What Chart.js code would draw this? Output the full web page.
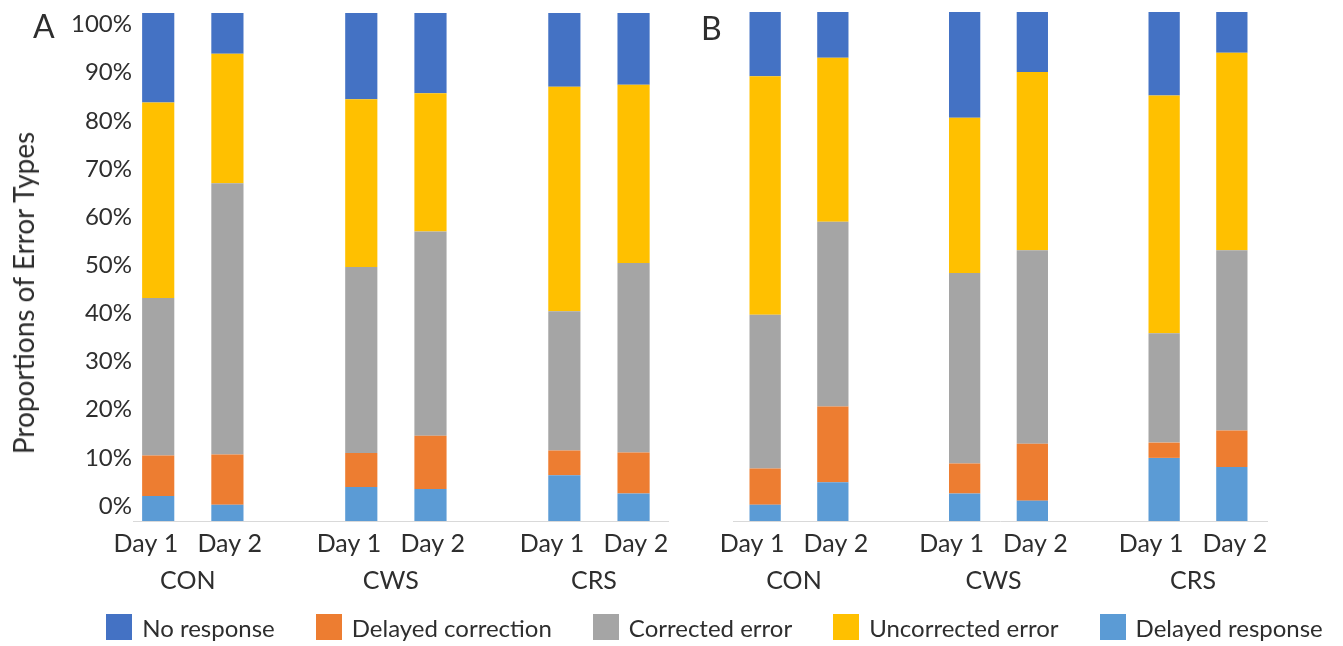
<!DOCTYPE html>
<html>
<head>
<meta charset="utf-8">
<title>Proportions of Error Types</title>
<script src="https://cdn.jsdelivr.net/npm/chart.js@4.4.1/dist/chart.umd.min.js"></script>
<style>
  html, body { margin: 0; padding: 0; background: #fff; }
  #wrap { position: relative; width: 1343px; height: 646px; overflow: hidden;
          font-family: Lato, "Open Sans", sans-serif; color: #2e2e2e; }
  canvas { position: absolute; left: 0; top: 0; }
  .panel-tag { position: absolute; font-size: 32px; line-height: 1; }
  #ytitle { position: absolute; left: 23px; top: 293px; white-space: nowrap; font-size: 28px;
            line-height: 1; transform: translate(-50%, -50%) rotate(-90deg); }
  #legend { position: absolute; left: 43px; top: 612px; width: 1343px; height: 30px;
            display: flex; justify-content: center; align-items: center; gap: 41px; font-size: 24px; }
  .item { display: flex; align-items: center; gap: 10px; white-space: nowrap; }
  .swatch { width: 26px; height: 26px; }
</style>
</head>
<body>
<div id="wrap">
  <canvas id="chartA" width="1343" height="646"></canvas>
  <canvas id="chartB" width="1343" height="646"></canvas>
  <div class="panel-tag" style="left:33px;top:9.5px">A</div>
  <div class="panel-tag" style="left:701px;top:11.5px">B</div>
  <div id="ytitle">Proportions of Error Types</div>
  <div id="legend"></div>
</div>
<script>
// Groups on the x axis and the two sessions inside each group
const groups = ['CON', 'CWS', 'CRS'];
const days = ['Day 1', 'Day 2'];

// Error types, listed from the bottom of each stack to the top
const seriesNames = ['Delayed response', 'Delayed correction', 'Corrected error', 'Uncorrected error', 'No response'];
const seriesColors = ['#5B9BD5', '#ED7D31', '#A5A5A5', '#FFC000', '#4472C4'];
const legendOrder = ['No response', 'Delayed correction', 'Corrected error', 'Uncorrected error', 'Delayed response'];

// Percentages per bar, in the order CON D1, CON D2, CWS D1, CWS D2, CRS D1, CRS D2
// Panel A
const delayedResponseA   = [4.9, 3.2, 6.7, 6.3, 9.0, 5.4];
const delayedCorrectionA = [8.0, 9.9, 6.7, 10.5, 4.9, 8.1];
const correctedErrorA    = [31.0, 53.4, 36.6, 40.2, 27.4, 37.3];
const uncorrectedErrorA  = [38.5, 25.5, 33.0, 27.2, 44.2, 35.1];
const noResponseA        = [17.6, 8.0, 17.0, 15.8, 14.5, 14.1];
// Panel B
const delayedResponseB   = [3.2, 7.6, 5.4, 4.0, 12.4, 10.6];
const delayedCorrectionB = [7.1, 14.9, 5.9, 11.2, 3.0, 7.2];
const correctedErrorB    = [30.2, 36.3, 37.4, 38.0, 21.5, 35.4];
const uncorrectedErrorB  = [46.9, 32.2, 30.5, 35.0, 46.7, 38.8];
const noResponseB        = [12.6, 9.0, 20.8, 11.8, 16.4, 8.0];

// Percent axis labels
const yTickStep = 10;
const yTickMax = 100;

const TEXT = '#2e2e2e';
const FONT = 'Lato';

function buildDatasets(seriesValues) {
  const out = [];
  seriesValues.forEach((vals, s) => {
    days.forEach((day, d) => {
      out.push({
        label: seriesNames[s],
        stack: day,
        backgroundColor: seriesColors[s],
        borderWidth: 0,
        data: groups.map((g, i) => ({ x: i, y: vals[i * 2 + d] }))
      });
    });
  });
  return out;
}

function makeOptions(cfg) {
  const scales = {
    x: {
      type: 'linear',
      stacked: true,
      offset: false,
      min: cfg.xMin,
      max: cfg.xMax,
      grid: { display: false, drawTicks: false },
      border: { display: true, color: '#d9d9d9', width: 1 },
      afterFit: (s) => { s.height = 125; },
      ticks: {
        stepSize: 1,
        includeBounds: false,
        autoSkip: false,
        maxRotation: 0,
        padding: 4,
        labelOffset: -5,
        color: TEXT,
        font: { family: FONT, size: 25, lineHeight: 1.5 },
        callback: (v) => (Number.isInteger(v) && groups[v])
          ? [days.join('\u00a0\u00a0\u00a0'), groups[v]] : null
      }
    },
    y: { stacked: true, min: 0, max: 100, display: false }
  };
  if (cfg.showPercent) {
    // label axis for the percent ticks, laid out a little inside the bar range
    scales.yl = {
      axis: 'y',
      position: 'left',
      min: -3.11,
      max: 102.38,
      grid: { display: false, drawTicks: false },
      border: { display: false },
      afterFit: (s) => { s.width = 133; },
      ticks: {
        stepSize: yTickStep,
        includeBounds: false,
        padding: 1,
        color: TEXT,
        font: { family: FONT, size: 24, lineHeight: 1 },
        callback: (v) => (v >= 0 && v <= yTickMax) ? v + '%' : null
      }
    };
  }
  return {
    responsive: false,
    animation: false,
    devicePixelRatio: 1,
    layout: { padding: { left: cfg.padLeft, right: cfg.padRight, top: 12, bottom: 0 } },
    plugins: { legend: { display: false }, tooltip: { enabled: false } },
    datasets: { bar: { categoryPercentage: cfg.catPct, barPercentage: cfg.barPct } },
    scales
  };
}

function buildLegend() {
  const box = document.getElementById('legend');
  legendOrder.forEach((name) => {
    const item = document.createElement('div');
    item.className = 'item';
    const sw = document.createElement('div');
    sw.className = 'swatch';
    sw.style.background = seriesColors[seriesNames.indexOf(name)];
    const tx = document.createElement('span');
    tx.textContent = name;
    item.appendChild(sw);
    item.appendChild(tx);
    box.appendChild(item);
  });
}

function draw() {
  new Chart(document.getElementById('chartA'), {
    type: 'bar',
    data: { datasets: buildDatasets([delayedResponseA, delayedCorrectionA, correctedErrorA, uncorrectedErrorA, noResponseA]) },
    options: makeOptions({
      showPercent: true, padLeft: 0, padRight: 675,
      xMin: -0.2945, xMax: 2.340, catPct: 0.6815, barPct: 0.465
    })
  });
  new Chart(document.getElementById('chartB'), {
    type: 'bar',
    data: { datasets: buildDatasets([delayedResponseB, delayedCorrectionB, correctedErrorB, uncorrectedErrorB, noResponseB]) },
    options: makeOptions({
      showPercent: false, padLeft: 733, padRight: 76,
      xMin: -0.3308, xMax: 2.3459, catPct: 0.6787, barPct: 0.462
    })
  });
  buildLegend();
}

if (document.fonts && document.fonts.load) {
  document.fonts.load('24px Lato').then(draw, draw);
} else {
  draw();
}
</script>
</body>
</html>
